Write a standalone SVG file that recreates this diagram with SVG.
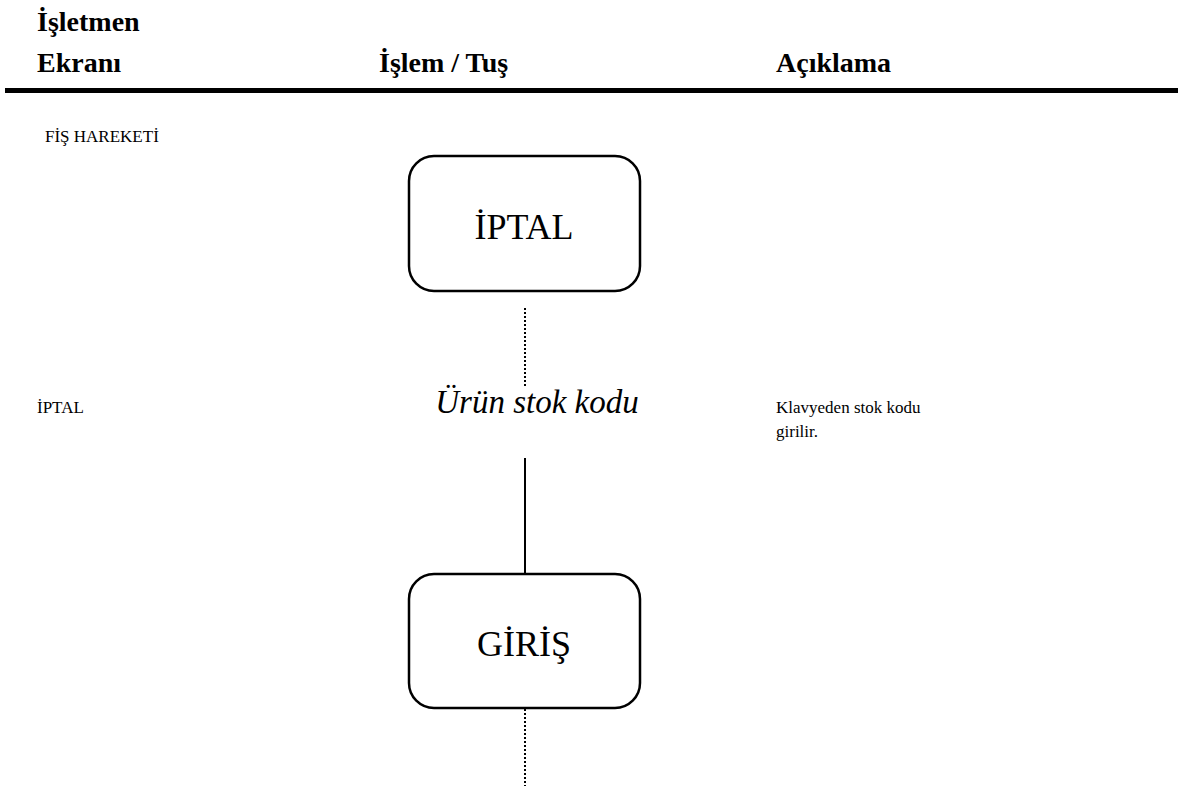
<svg xmlns="http://www.w3.org/2000/svg" width="1178" height="793" viewBox="0 0 1178 793">
<style>
.h{font-family:"Liberation Serif","Times New Roman",serif;font-weight:bold;font-size:28px;fill:#000}
.t{font-family:"Liberation Serif","Times New Roman",serif;font-size:17px;fill:#000}
.box{fill:#fff;stroke:#000;stroke-width:2.5}
.bt{font-family:"Liberation Serif","Times New Roman",serif;font-size:36px;fill:#000;text-anchor:middle}
.dot{stroke:#000;stroke-width:2;stroke-dasharray:2 2;fill:none}
.sol{stroke:#000;stroke-width:2;fill:none}
</style>
<rect width="1178" height="793" fill="#fff"/>
<g id="header">
<text class="h" x="37" y="31">İşletmen</text>
<text class="h" x="37" y="72">Ekranı</text>
<text class="h" x="379" y="72">İşlem / Tuş</text>
<text class="h" x="776" y="72">Açıklama</text>
<line x1="5" y1="90.5" x2="1178" y2="90.5" stroke="#000" stroke-width="5"/>
</g>
<g id="labels">
<text class="t" x="45" y="142" font-size="18">FİŞ HAREKETİ</text>
<text class="t" x="37" y="413">İPTAL</text>
<text x="537" y="413" font-family="Liberation Serif, Times New Roman, serif" font-size="33" font-style="italic" text-anchor="middle">Ürün stok kodu</text>
<text class="t" x="776" y="413">Klavyeden stok kodu</text>
<text class="t" x="776" y="437">girilir.</text>
</g>
<g id="connectors">
<line class="dot" x1="525" y1="308" x2="525" y2="386"/>
<line class="sol" x1="525" y1="458" x2="525" y2="574"/>
<line class="dot" x1="525" y1="709" x2="525" y2="786"/>
</g>
<g id="node-iptal">
<rect class="box" x="409" y="156" width="231" height="135" rx="25"/>
<text class="bt" x="524" y="239">İPTAL</text>
</g>
<g id="node-giris">
<rect class="box" x="409" y="574" width="231" height="134" rx="25"/>
<text class="bt" x="524" y="656">GİRİŞ</text>
</g>
</svg>
